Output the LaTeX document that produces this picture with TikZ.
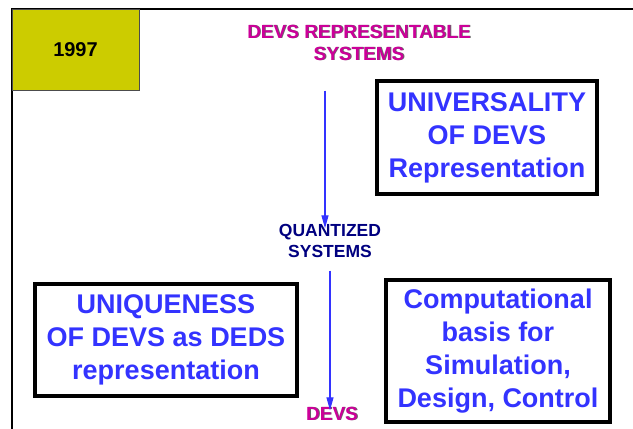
\documentclass[tikz,border=0pt]{standalone}
\usepackage{fontspec}
\setmainfont{Liberation Sans}
\usepackage{xcolor}
\usetikzlibrary{arrows.meta}

\definecolor{devsmag}{HTML}{CC0099}
\definecolor{devsblue}{HTML}{3333FF}
\definecolor{devsnavy}{HTML}{000080}
\definecolor{yearyel}{HTML}{CCCC00}

% text with a small dark drop shadow
\newcommand{\shtext}[1]{\makebox[0pt][l]{\hspace{0.9pt}\raisebox{-0.9pt}{\color{black!60}#1}}#1}

\tikzset{
  claim/.style={draw=black, line width=3.2pt, fill=white, align=center,
    text=devsblue, font=\fontsize{27}{33}\selectfont\bfseries},
  heading/.style={align=center, text=devsmag, font=\fontsize{19}{22}\selectfont\bfseries},
  flow/.style={draw=devsblue, line width=1.2pt, -{Triangle[width=7pt,length=13pt]}}
}

\begin{document}
\begin{tikzpicture}[x=1pt,y=-1pt]
    \useasboundingbox (0,0) rectangle (633,429);
    \fill[white] (0,0) rectangle (633,429);

    % Frame and year
    \draw[line width=1.6pt] (633,9) -- (12,9) -- (12,429);
    \node[draw=black!70, fill=yearyel, line width=0.8pt, minimum width=127pt,
      minimum height=81pt, font=\fontsize{20}{20}\selectfont\bfseries] (year) at (75.5,49.5) {1997};

    % Chain of system classes
    \node[heading] (repr) at (359,43) {\shtext{DEVS REPRESENTABLE}\\\shtext{SYSTEMS}};
    \node[align=center, text=devsnavy, font=\fontsize{17.5}{21}\selectfont\bfseries]
      (quant) at (330,240.5) {QUANTIZED\\SYSTEMS};
    \node[heading] (devs) at (332,414) {\shtext{DEVS}};

    \draw[flow] ([xshift=-34pt,yshift=-26pt]repr.south) -- ([xshift=-5pt,yshift=-8pt]quant.north);
    \draw[flow] ([yshift=-10pt]quant.south) -- ([yshift=-7pt]quant.south |- devs.north);

    % Claims
    \node[claim, minimum width=220pt, minimum height=113pt] (univ) at (487,137.5)
      {UNIVERSALITY\\OF DEVS\\Representation};
    \node[claim, minimum width=262pt, minimum height=112pt] (uniq) at (166,340)
      {UNIQUENESS\\OF DEVS as DEDS\\representation};
    \node[claim, minimum width=224pt, minimum height=142pt] (comp) at (498,351)
      {Computational\\basis for\\Simulation,\\Design, Control};
\end{tikzpicture}
\end{document}
